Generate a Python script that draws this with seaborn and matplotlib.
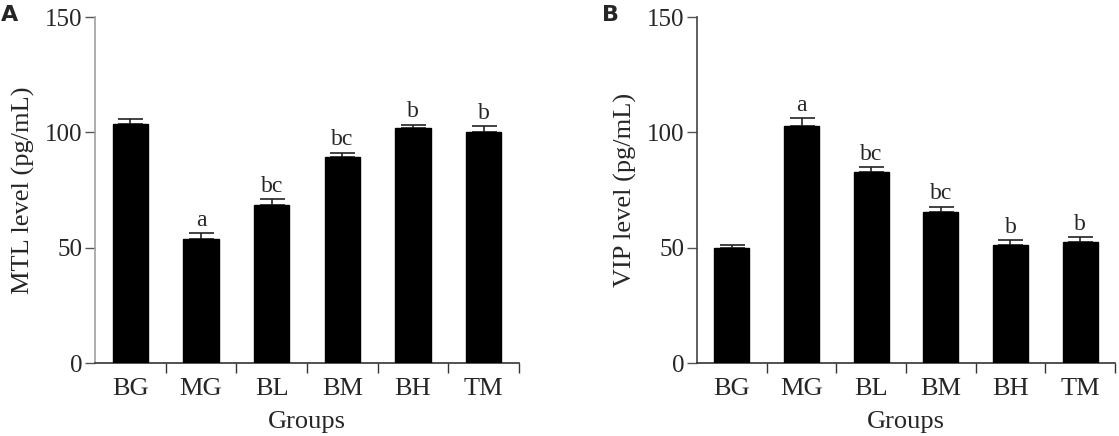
import matplotlib
matplotlib.use('Agg')
import matplotlib.pyplot as plt
import seaborn as sb
import pandas as pd
import numpy as np

#================================================
# DATA

groups = ['BG', 'MG', 'BL', 'BM', 'BH', 'TM']

mtl_mean = [103.6, 53.7, 68.5, 89.3, 101.7, 100.1]
mtl_err = [2.0, 2.6, 2.5, 1.9, 1.6, 2.7]
mtl_marks = ['', 'a', 'bc', 'bc', 'b', 'b']

vip_mean = [49.8, 102.8, 82.9, 65.5, 51.3, 52.6]
vip_err = [1.5, 3.5, 1.9, 2.3, 2.1, 1.9]
vip_marks = ['', 'a', 'bc', 'bc', 'b', 'b']

y_ticks = [0, 50, 100, 150]

#================================================
# STYLE

sb.set_style('ticks')
plt.rcParams['font.family'] = ['Liberation Serif', 'DejaVu Serif']

fig = plt.figure(figsize=(11.19, 4.36), dpi=100)
ax_a = fig.add_axes([0.0849, 0.1674, 0.3789, 0.7936])
ax_b = fig.add_axes([0.6229, 0.1674, 0.3735, 0.7936])

#================================================
# PLOTTING ONE PANEL

def bar_panel(ax, means, errs, marks, ylabel, left_color):
    df = pd.DataFrame({'Group': groups, 'Value': means})
    sb.barplot(data=df, x='Group', y='Value', color='black', width=0.5,
               saturation=1, errorbar=None, ax=ax, zorder=3)
    for p in ax.patches:
        p.set_edgecolor('black')

    # Upper half of the error bars only
    xpos = np.arange(len(groups))
    ax.errorbar(xpos, means, yerr=[np.zeros(len(errs)), errs], fmt='none',
                ecolor='#222222', elinewidth=1.2, capsize=9, capthick=1.2, zorder=2)

    # Significance letters
    for x, m, e, t in zip(xpos, means, errs, marks):
        if t:
            ax.text(x, m + e + 1.0, t, ha='center', va='bottom', fontsize=17)

    #------------------------------------
    # Axis formatting
    ax.set_xlim(-0.5, 5.5)
    ax.set_ylim(0, 150)
    ax.set_yticks(y_ticks)
    ax.set_yticklabels([str(v) for v in y_ticks], fontsize=18)
    ax.tick_params(axis='y', length=7, width=1, color='#555555', pad=2)
    ax.tick_params(axis='x', which='major', length=0, labelsize=19, pad=11)
    ax.set_xticks(np.arange(0.5, 6, 1), minor=True)
    ax.tick_params(axis='x', which='minor', length=7, width=1, color='#333333')

    ax.set_xlabel('Groups', fontsize=19, labelpad=8)
    ax.set_ylabel(ylabel, fontsize=19, labelpad=7)

    sb.despine(ax=ax)
    ax.spines['left'].set_color(left_color)
    ax.spines['left'].set_linewidth(1.2)
    ax.spines['bottom'].set_color('#333333')
    ax.spines['bottom'].set_linewidth(1.2)

bar_panel(ax_a, mtl_mean, mtl_err, mtl_marks, 'MTL level (pg/mL)', '#a0a0a0')
bar_panel(ax_b, vip_mean, vip_err, vip_marks, 'VIP level (pg/mL)', '#444444')

#------------------------------------
# Panel letters
fig.text(0.001, 0.988, 'A', fontsize=16, fontweight='bold', family='DejaVu Sans',
         ha='left', va='top')
fig.text(0.538, 0.988, 'B', fontsize=16, fontweight='bold', family='DejaVu Sans',
         ha='left', va='top')

fig.savefig('out.png', dpi=100)
